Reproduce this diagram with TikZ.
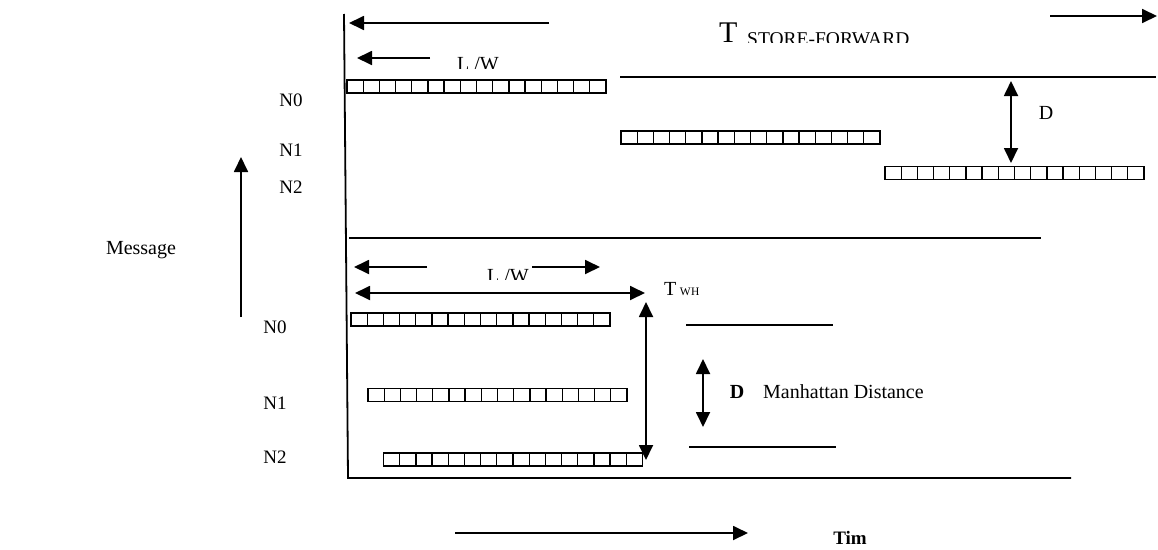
\documentclass[tikz,border=0pt]{standalone}
\usepackage{fontspec}
\setmainfont{Liberation Serif}
\usetikzlibrary{arrows.meta,calc}
\tikzset{
  ln/.style={line width=1.8pt},
  arr/.style={ln,-{Triangle[length=15pt,width=14pt]}},
  darr/.style={ln,{Triangle[length=15pt,width=14pt]}-{Triangle[length=15pt,width=14pt]}},
  cellbar/.style={draw,line width=1.5pt,minimum width=259pt,minimum height=13pt,inner sep=0pt,outer sep=0pt},
  divider/.style={line width=1.3pt},
  lbl/.style={font=\fontsize{19}{19}\selectfont,inner sep=0pt},
  big/.style={font=\fontsize{20}{20}\selectfont,inner sep=0pt},
}
\begin{document}
\begin{tikzpicture}[x=1pt,y=-1pt]
\useasboundingbox (0,0) rectangle (1158,549);

% axes and guide lines
\coordinate (axtop) at (344,14);
\coordinate (axbot) at (348,478);
\coordinate (botend) at (1071,478);
\coordinate (midL) at (349,238);
\coordinate (midR) at (1041,238);
\coordinate (topL) at (620,77);
\coordinate (topR) at (1156,77);
\coordinate (s1L) at (686,325);
\coordinate (s1R) at (833,325);
\coordinate (s2L) at (689,447);
\coordinate (s2R) at (836,447);
\draw[ln] (axtop) -- (axbot) -- (botend);
\draw[ln] (midL) -- (midR);
\draw[ln] (topL) -- (topR);
\draw[ln] (s1L) -- (s1R);
\draw[ln] (s2L) -- (s2R);

% bars
\node[cellbar] (a0) at (476.5,86.5) {};
\node[cellbar] (a1) at (750.5,137.5) {};
\node[cellbar] (a2) at (1014.5,173) {};
\node[cellbar] (b0) at (480.5,319.5) {};
\node[cellbar] (b1) at (497.5,395) {};
\node[cellbar] (b2) at (513,459.5) {};
\foreach \b in {a0,a1,a2,b0,b1,b2}
  \foreach \i in {1,...,15}
    \draw[divider] ($(\b.south west)!\i/16!(\b.south east)$) -- ($(\b.north west)!\i/16!(\b.north east)$);

% top arrows
\coordinate (t1s) at (549,23);
\coordinate (t1e) at (349,23);
\coordinate (t2s) at (1050,16);
\coordinate (t2e) at (1157,16);
\coordinate (t3s) at (430,58);
\coordinate (t3e) at (357,58);
\draw[arr] (t1s) -- (t1e);
\draw[arr] (t2s) -- (t2e);
\draw[arr] (t3s) -- (t3e);

% upper D
\coordinate (dUa) at (1011,81);
\coordinate (dUb) at (1011,163);
\draw[darr] (dUa) -- (dUb);
\node[big] (dU) at (1046,113) {D};

% clipped titles
\begin{scope}
\clip (600,0) rectangle (1000,42.5);
\node[anchor=base west,inner sep=0pt,font=\fontsize{30}{30}\selectfont] (tsf) at (719,42) {T};
\node[anchor=base west,inner sep=0pt,font=\fontsize{19.5}{19.5}\selectfont] (sf) at (747,45) {STORE-FORWARD};
\end{scope}
\begin{scope}
\clip (440,40) rectangle (520,68);
\node[anchor=base west,big] (lw1) at (457,70.5) {L /W};
\end{scope}
\begin{scope}
\clip (470,255) rectangle (540,279);
\node[anchor=base west,big] (lw2) at (487,282.5) {L /W};
\end{scope}

% lower arrows
\coordinate (l1s) at (427,267);
\coordinate (l1e) at (354,267);
\coordinate (l2s) at (532,267);
\coordinate (l2e) at (600,267);
\draw[arr] (l1s) -- (l1e);
\draw[arr] (l2s) -- (l2e);
\coordinate (twA) at (355,293);
\coordinate (twB) at (645,293);
\draw[darr] (twA) -- (twB);
\node[anchor=base west,inner sep=0pt,font=\fontsize{20}{20}\selectfont] (twh) at (664,295) {T\,{\fontsize{11.5}{11.5}\selectfont W\kern0.5pt H}};
\coordinate (vA) at (646,302);
\coordinate (vB) at (646,460);
\draw[darr] (vA) -- (vB);

% Manhattan distance
\coordinate (mdA) at (703,359);
\coordinate (mdB) at (703,427);
\draw[darr] (mdA) -- (mdB);
\node[inner sep=0pt,font=\fontsize{20}{20}\selectfont\bfseries] (dL) at (737,392) {D};
\node[anchor=west,big] (md) at (763,392) {Manhattan Distance};

% node labels
\node[lbl] (n0a) at (291,100) {N0};
\node[lbl] (n1a) at (291,150) {N1};
\node[lbl] (n2a) at (291,187) {N2};
\node[lbl] (n0b) at (275,327) {N0};
\node[lbl] (n1b) at (275,403) {N1};
\node[lbl] (n2b) at (275,457) {N2};

% message axis
\coordinate (mA) at (241,317);
\coordinate (mB) at (241,157);
\draw[arr] (mA) -- (mB);
\node[big] (msg) at (141,250) {Message};

% time axis
\coordinate (tA) at (455,533);
\coordinate (tB) at (748,533);
\draw[arr] (tA) -- (tB);
\node[inner sep=0pt,font=\fontsize{19}{19}\selectfont\bfseries] (tim) at (850,538) {Tim};
\end{tikzpicture}
\end{document}
